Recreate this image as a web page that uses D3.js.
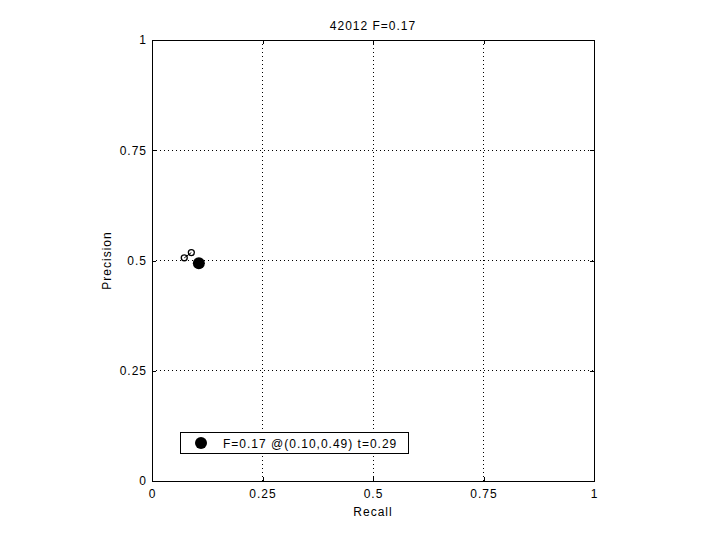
<!DOCTYPE html>
<html><head><meta charset="utf-8">
<script src="https://cdn.jsdelivr.net/npm/d3@7"></script>
<style>body{margin:0;background:#fff}svg{font-family:"Liberation Sans",Arial,sans-serif}text{letter-spacing:1px}</style>
</head><body>
<svg id="c" width="720" height="540"></svg>
<script>
const titleText = "42012 F=0.17";
const curveRecall = [0.073, 0.089];
const curvePrecision = [0.506, 0.518];
const bestRecall = [0.106];
const bestPrecision = [0.494];
const bestLabel = ["F=0.17 @(0.10,0.49) t=0.29"];
const tickValues = [0, 0.25, 0.5, 0.75, 1];
const tickLabels = ["0", "0.25", "0.5", "0.75", "1"];

const svg = d3.select("#c");
const L = 152, R = 594, T = 40, B = 481;
const x = d3.scaleLinear().domain([0, 1]).range([L, R]);
const y = d3.scaleLinear().domain([0, 1]).range([B, T]);

// grid
const g = svg.append("g");
tickValues.slice(1, -1).forEach(v => {
  g.append("line").attr("x1", x(v)).attr("x2", x(v)).attr("y1", T).attr("y2", B)
    .attr("stroke", "#000").attr("stroke-width", 1).attr("stroke-dasharray", "1,3").attr("shape-rendering", "crispEdges");
  g.append("line").attr("y1", y(v)).attr("y2", y(v)).attr("x1", L).attr("x2", R)
    .attr("stroke", "#000").attr("stroke-width", 1).attr("stroke-dasharray", "1,3").attr("shape-rendering", "crispEdges");
});

// axes
const fmt = (d, i) => tickLabels[i];
const ax = svg.append("g").attr("transform", `translate(0,${B})`)
  .call(d3.axisBottom(x).tickValues(tickValues).tickFormat(fmt).tickSizeInner(-4).tickSizeOuter(0).tickPadding(8));
const ay = svg.append("g").attr("transform", `translate(${L},0)`)
  .call(d3.axisLeft(y).tickValues(tickValues).tickFormat(fmt).tickSizeInner(-4).tickSizeOuter(0).tickPadding(5));
const axT = svg.append("g").attr("transform", `translate(0,${T})`)
  .call(d3.axisTop(x).tickValues(tickValues).tickFormat("").tickSizeInner(-4).tickSizeOuter(0));
const ayR = svg.append("g").attr("transform", `translate(${R},0)`)
  .call(d3.axisRight(y).tickValues(tickValues).tickFormat("").tickSizeInner(-4).tickSizeOuter(0));
[ax, ay, axT, ayR].forEach(a => {
  a.selectAll("path,line").attr("stroke", "#000").attr("shape-rendering", "crispEdges");
  a.selectAll("text").attr("font-size", 12).attr("fill", "#000").attr("font-family", "Liberation Sans, Arial, sans-serif");
});

// curve
const pts = curveRecall.map((r, i) => [r, curvePrecision[i]]);
svg.append("path").datum(pts)
  .attr("d", d3.line().x(d => x(d[0])).y(d => y(d[1])))
  .attr("fill", "none").attr("stroke", "#000").attr("stroke-width", 1);
svg.selectAll("circle.pt").data(pts).enter().append("circle")
  .attr("cx", d => x(d[0])).attr("cy", d => y(d[1])).attr("r", 3)
  .attr("fill", "none").attr("stroke", "#000").attr("stroke-width", 1.3);

// best point
svg.selectAll("circle.best").data(bestRecall).enter().append("circle")
  .attr("cx", (d, i) => x(d)).attr("cy", (d, i) => y(bestPrecision[i])).attr("r", 6)
  .attr("fill", "#000");

// legend
svg.append("rect").attr("x", 180.5).attr("y", 432.5).attr("width", 228).attr("height", 21)
  .attr("fill", "#fff").attr("stroke", "#000").attr("stroke-width", 1);
svg.append("circle").attr("cx", 201).attr("cy", 443).attr("r", 6).attr("fill", "#000");
svg.append("text").attr("x", 223).attr("y", 447.5).attr("font-size", 12).text(bestLabel[0]);

// title & labels
svg.append("text").attr("x", (L + R) / 2).attr("y", 30).attr("text-anchor", "middle").attr("font-size", 12).text(titleText);
svg.append("text").attr("x", (L + R) / 2).attr("y", 516).attr("text-anchor", "middle").attr("font-size", 12).text("Recall");
svg.append("text").attr("transform", `translate(111,${(T + B) / 2}) rotate(-90)`).attr("text-anchor", "middle").attr("font-size", 12).text("Precision");
</script>
</body></html>
